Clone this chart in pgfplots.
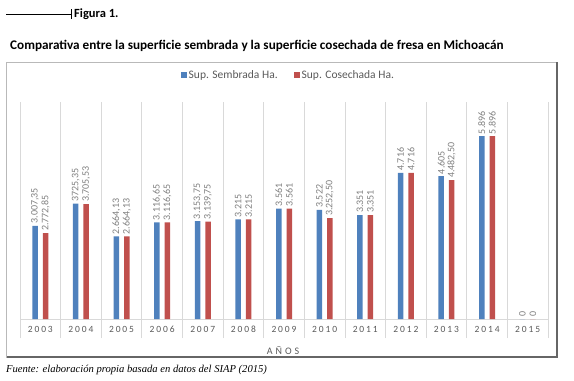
\documentclass[border=0pt]{standalone}
\usepackage{pgfplots}
\pgfplotsset{compat=1.18}
\usepackage{pgfplotstable}
\usepackage{fontspec}
\setmainfont{Carlito}
\newfontfamily\calibri{Carlito}
\newfontfamily\calibrisp[LetterSpace=20]{Carlito}
\newfontfamily\calibriwide[LetterSpace=30]{Carlito}
\newfontfamily\serifit{Liberation Serif}
\definecolor{xlblue}{HTML}{4F81BD}
\definecolor{xlred}{HTML}{C0504D}
\definecolor{lblgray}{HTML}{7F7F7F}
\definecolor{tickgray}{HTML}{595959}
\definecolor{gridgray}{HTML}{D9D9D9}

\pgfplotstableread{
x y lab
0 3007.35 3.007,35
1 3725.35 3725,35
2 2664.13 2.664,13
3 3116.65 3.116,65
4 3153.75 3.153,75
5 3215 3.215
6 3561 3.561
7 3522 3.522
8 3351 3.351
9 4716 4.716
10 4605 4.605
11 5896 5.896
12 0 0
}\sembrada

\pgfplotstableread{
x y lab
0 2772.85 2.772,85
1 3705.53 3.705,53
2 2664.13 2.664,13
3 3116.65 3.116,65
4 3139.75 3.139,75
5 3215 3.215
6 3561 3.561
7 3252.50 3.252,50
8 3351 3.351
9 4716 4.716
10 4482.50 4.482,50
11 5896 5.896
12 0 0
}\cosechada

\begin{document}
\begin{tikzpicture}
\path[use as bounding box] (0,0) rectangle (574bp,-381bp);
% header
\draw[black, line width=0.8bp] (6bp,-14bp) -- (71bp,-14bp);
\draw[black, line width=0.8bp] (71bp,-9bp) -- (71bp,-19bp);
\node[anchor=west, inner sep=0pt, font=\calibri\bfseries\fontsize{12.5bp}{14bp}\selectfont] at (74bp,-14bp) {Figura 1.};
\node[anchor=west, inner sep=0pt, font=\calibri\bfseries\fontsize{13.2bp}{16bp}\selectfont] at (10bp,-46bp) {Comparativa entre la superficie sembrada y la superficie cosechada de fresa en Michoacán};
% frame
\draw[gray!55, line width=1bp] (6.5bp,-62bp) rectangle (557bp,-357bp);
\draw[gray!80!black, line width=1.2bp] (557bp,-62bp) -- (557bp,-357bp) -- (6.5bp,-357bp);

\begin{axis}[
  at={(20bp,-319bp)}, anchor=south west,
  scale only axis, width=528bp, height=217bp,
  xmin=-0.5, xmax=12.5, ymin=0, ymax=7000,
  axis x line*=bottom, axis y line=none,
  x axis line style={-, draw=gridgray, line width=0.8bp},
  xtick={0,...,12},
  xticklabels={2003,2004,2005,2006,2007,2008,2009,2010,2011,2012,2013,2014,2015},
  major tick length=0pt,
  minor xtick={-0.5,0.5,...,12.5},
  minor tick length=19bp,
  tick align=outside,
  minor x tick style={draw=gridgray, line width=0.8bp},
  xminorgrids=true,
  minor x grid style={draw=gridgray, line width=0.8bp},
  ytick=\empty,
  xticklabel style={font=\calibrisp\fontsize{9.5bp}{11bp}\selectfont, text=tickgray, text height=7bp, text depth=1bp, yshift=-3bp},
  ybar=5bp, bar width=5.5bp,
  point meta=explicit symbolic,
  nodes near coords,
  every node near coord/.append style={rotate=90, anchor=west, font=\calibri\fontsize{10bp}{11bp}\selectfont, text=lblgray, inner sep=2bp},
  legend columns=2,
  legend style={at={(0.304,1.124)}, anchor=west, draw=none, fill=none,
    font=\calibri\fontsize{11.5bp}{13bp}\selectfont, text=tickgray,
    /tikz/every even column/.append style={column sep=14bp}, inner sep=0pt},
  clip=false,
]
\addplot[draw=none, fill=xlblue, legend image code/.code={\fill[xlblue] (0bp,-3bp) rectangle (6bp,3bp);}] table[x=x, y=y, meta=lab] {\sembrada};
\addlegendentry{Sup. Sembrada Ha.}
\addplot[draw=none, fill=xlred, legend image code/.code={\fill[xlred] (0bp,-3bp) rectangle (6bp,3bp);}] table[x=x, y=y, meta=lab] {\cosechada};
\addlegendentry{Sup. Cosechada Ha.}
\end{axis}

\node[anchor=center, inner sep=0pt, font=\calibriwide\fontsize{10bp}{12bp}\selectfont, text=tickgray] at (283bp,-351bp) {AÑOS};
\node[anchor=west, inner sep=0pt, font=\serifit\itshape\fontsize{10.6bp}{12bp}\selectfont] at (6bp,-370bp) {Fuente: elaboración propia basada en datos del SIAP (2015)};
\end{tikzpicture}
\end{document}
